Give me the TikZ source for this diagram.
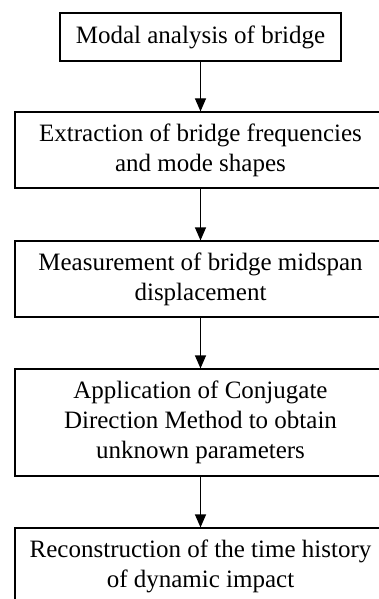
\documentclass[tikz,border=0pt]{standalone}
\usepackage{fontspec}
\setmainfont{Liberation Serif}
\usetikzlibrary{arrows.meta}
\begin{document}
\begin{tikzpicture}[x=1pt,y=-1pt,
  box/.style={draw, line width=1.2pt, inner sep=0pt, align=center,
    font=\fontsize{25}{30}\selectfont},
  flow/.style={line width=1.2pt, -{Triangle[width=11pt,length=13pt]}}]
\useasboundingbox (0,0) rectangle (379,599);
\node[box, minimum width=281pt, minimum height=48pt] (b1) at (200.5,37) {Modal analysis of bridge};
\node[box, minimum width=371pt, minimum height=76pt] (b2) at (200.5,150) {Extraction of bridge frequencies\\and mode shapes};
\node[box, minimum width=371pt, minimum height=76pt] (b3) at (200.5,279) {Measurement of bridge midspan\\displacement};
\node[box, minimum width=371pt, minimum height=107pt] (b4) at (200.5,422.5) {Application of Conjugate\\Direction Method to obtain\\unknown parameters};
\node[box, minimum width=371pt, minimum height=76pt] (b5) at (200.5,566) {Reconstruction of the time history\\of dynamic impact};
\draw[flow] (b1) -- (b2);
\draw[flow] (b2) -- (b3);
\draw[flow] (b3) -- (b4);
\draw[flow] (b4) -- (b5);
\end{tikzpicture}
\end{document}
